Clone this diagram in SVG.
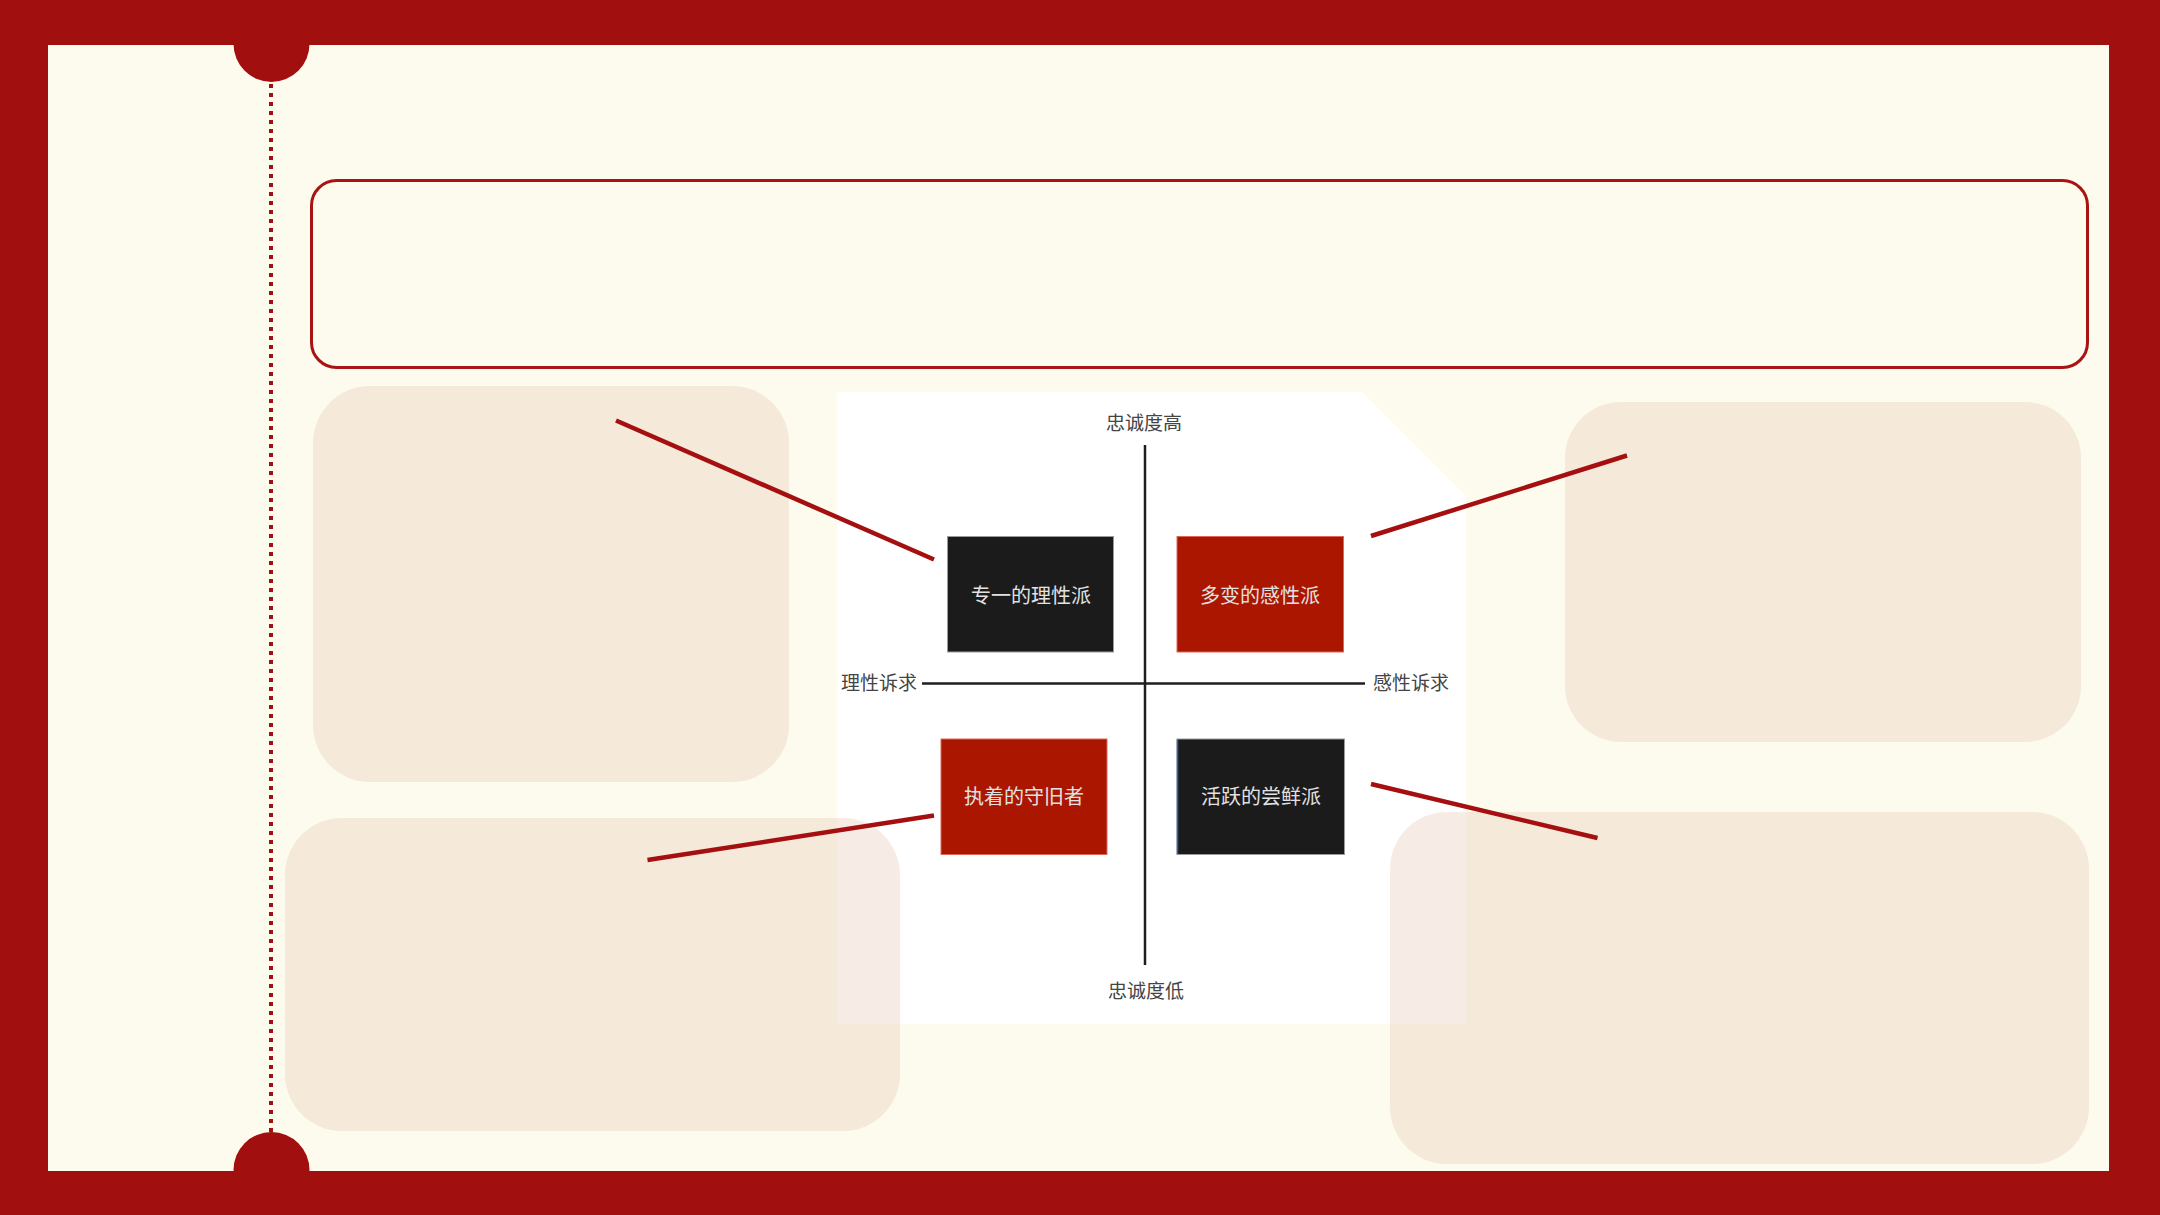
<svg xmlns="http://www.w3.org/2000/svg" width="2160" height="1215" viewBox="0 0 2160 1215">
  <style>
    .frame { fill: #a10f0f; }
    .card { fill: #e6c9b4; fill-opacity: 0.35; }
    .lbl { font-family: "Noto Sans CJK SC", "Noto Sans", sans-serif; font-size: 19px; fill: #444444; }
    .btxt { font-family: "Noto Sans CJK SC", "Noto Sans", sans-serif; font-size: 20px; fill: #e2e2e2; text-anchor: middle; }
    .dark { fill: #1b1b1b; stroke: #9a9a9a; stroke-width: 1; }
    .red { fill: #ab1600; stroke: #d86a5a; stroke-width: 1; }
    .axis { stroke: #1e1e1e; stroke-width: 2.5; fill: none; }
    .conn { stroke: #a50f0f; stroke-width: 4.5; stroke-linecap: butt; fill: none; }
  </style>

  <!-- background and frame -->
  <rect x="0" y="0" width="2160" height="1215" fill="#fdfbee"/>
  <g id="frame">
    <rect class="frame" x="0" y="0" width="2160" height="45"/>
    <rect class="frame" x="0" y="1171" width="2160" height="44"/>
    <rect class="frame" x="0" y="0" width="48" height="1215"/>
    <rect class="frame" x="2109" y="0" width="51" height="1215"/>
    <circle class="frame" cx="271.5" cy="44" r="38"/>
    <circle class="frame" cx="271.5" cy="1170" r="38"/>
    <line x1="271" y1="84" x2="271" y2="1134" stroke="#a10f0f" stroke-width="4" stroke-dasharray="4 5"/>
  </g>

  <!-- title box -->
  <g id="title-box">
    <rect x="311.5" y="180.5" width="1776" height="187" rx="25" ry="25" fill="none" stroke="#a81414" stroke-width="3"/>
  </g>

  <!-- white chart panel -->
  <g id="chart-panel">
    <polygon points="837,392 1362,392 1466,496 1466,1024 837,1024" fill="#ffffff"/>
  </g>

  <!-- description cards -->
  <g id="card-top-left">
    <rect class="card" x="313" y="386" width="476" height="396" rx="57" ry="57"/>
  </g>
  <g id="card-bottom-left">
    <rect class="card" x="285" y="818" width="615" height="313" rx="57" ry="57"/>
  </g>
  <g id="card-top-right">
    <rect class="card" x="1565" y="402" width="516" height="340" rx="56" ry="56"/>
  </g>
  <g id="card-bottom-right">
    <rect class="card" x="1390" y="812" width="699" height="352" rx="57" ry="57"/>
  </g>

  <!-- axes -->
  <g id="axes">
    <line class="axis" x1="1145" y1="445" x2="1145" y2="965"/>
    <line class="axis" x1="922" y1="683.5" x2="1365" y2="683.5"/>
  </g>

  <g id="label-top"><text class="lbl" x="1144" y="430" text-anchor="middle">忠诚度高</text></g>
  <g id="label-bottom"><text class="lbl" x="1146" y="998" text-anchor="middle">忠诚度低</text></g>
  <g id="label-left"><text class="lbl" x="841" y="690">理性诉求</text></g>
  <g id="label-right"><text class="lbl" x="1373" y="690">感性诉求</text></g>

  <!-- quadrant nodes -->
  <g id="node-rational">
    <rect class="dark" x="947.5" y="536.5" width="166" height="115.5"/>
    <text class="btxt" x="1031" y="602.5">专一的理性派</text>
  </g>
  <g id="node-emotional">
    <rect class="red" x="1177" y="536.5" width="166.5" height="115.5"/>
    <text class="btxt" x="1260" y="602.5">多变的感性派</text>
  </g>
  <g id="node-conservative">
    <rect class="red" x="941" y="739" width="166" height="115.5"/>
    <text class="btxt" x="1024" y="804">执着的守旧者</text>
  </g>
  <g id="node-trendy">
    <rect class="dark" x="1177" y="739" width="167.5" height="115.5"/>
    <line x1="1177.5" y1="739.5" x2="1177.5" y2="854" stroke="#3a5aa8" stroke-width="1.5"/>
    <text class="btxt" x="1261" y="804">活跃的尝鲜派</text>
  </g>

  <!-- connectors -->
  <g id="connectors">
    <line class="conn" x1="616" y1="420.5" x2="934" y2="559.5"/>
    <line class="conn" x1="1371" y1="536" x2="1627" y2="455.5"/>
    <line class="conn" x1="647.5" y1="860" x2="934" y2="815.5"/>
    <line class="conn" x1="1371" y1="784" x2="1597.5" y2="838"/>
  </g>
</svg>
